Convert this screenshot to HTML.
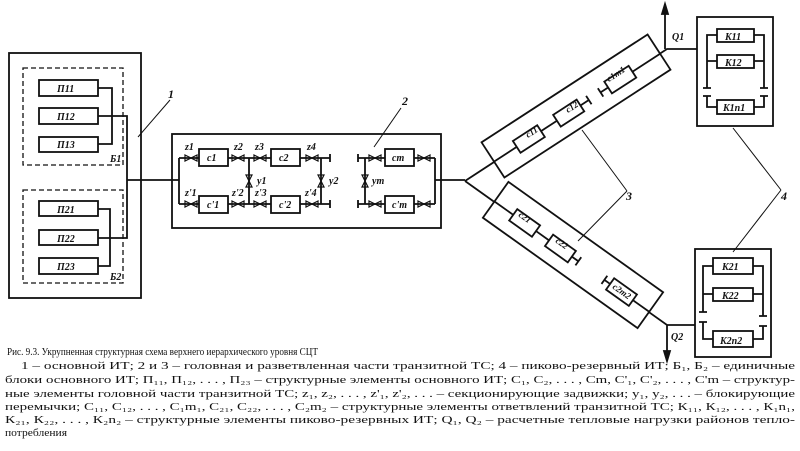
<!DOCTYPE html>
<html><head><meta charset="utf-8"><style>
html,body{margin:0;padding:0;background:#fff;}
svg{display:block}
text{font-family:"Liberation Serif",serif;fill:#111}
.l{font-family:"Liberation Sans",sans-serif;font-style:italic;font-weight:bold;font-size:10px}
</style></head><body>
<svg width="800" height="451" viewBox="0 0 800 451" xmlns="http://www.w3.org/2000/svg">
<defs>
<g id="v"><path d="M-6,-3 L0,0 L-6,3 Z M6,-3 L0,0 L6,3 Z" fill="none" stroke="#111" stroke-width="1.2"/></g>
<g id="vv"><path d="M-3,-6 L0,0 L3,-6 Z M-3,6 L0,0 L3,6 Z" fill="none" stroke="#111" stroke-width="1.2"/></g>
</defs>
<g stroke="#111" stroke-width="1.8" fill="none">
<rect x="9" y="53" width="132" height="245"/>
<rect x="23" y="68" width="100" height="97" stroke-dasharray="5,3" stroke-width="1.3"/>
<rect x="23" y="190" width="100" height="93" stroke-dasharray="5,3" stroke-width="1.3"/>
<rect x="39" y="80" width="59" height="16"/>
<rect x="39" y="108" width="59" height="16"/>
<rect x="39" y="137" width="59" height="15"/>
<rect x="39" y="201" width="59" height="15"/>
<rect x="39" y="230" width="59" height="15"/>
<rect x="39" y="258" width="59" height="16"/>
<path d="M98,88 H112 V144 H98 M98,116 H127 V238 H98 M98,209 H110 V266 H98 M127,180 H172"/>
<rect x="172" y="134" width="269" height="94"/>
<path d="M172,180 H179 M179,158 V204 M179,158 H199 M228,158 H271 M300,158 H330 M179,204 H199 M228,204 H271 M300,204 H330 M249,158 V204 M321,158 V204"/>
<path d="M330,154 V162 M330,200 V208 M358,154 V162 M358,200 V208 M358,158 H385 M414,158 H435 M358,204 H385 M414,204 H435 M365,158 V204 M435,158 V204 M435,180 H465"/>
<rect x="199" y="149" width="29" height="17"/>
<rect x="199" y="196" width="29" height="17"/>
<rect x="271" y="149" width="29" height="17"/>
<rect x="271" y="196" width="29" height="17"/>
<rect x="385" y="149" width="29" height="17"/>
<rect x="385" y="196" width="29" height="17"/>
<path d="M465,181 L667,49 H697 M665,49 V10 M465,181 L667,325 H695 M667,325 V355"/>
<path d="M665,4 L662,14 L668,14 Z M667,361 L664,351 L670,351 Z" fill="#111"/>
<g transform="translate(576,106) rotate(-33)">
<rect x="-99" y="-21" width="198" height="42" fill="#fff"/>
<path d="M-99,2 H-72 M-43,2 H-24 M4,2 H14 M14,-3 V7 M28,2 H37 M28,-3 V7 M66,2 H99"/>
<rect x="-72" y="-5" width="29" height="14" fill="#fff"/>
<rect x="-24" y="-5" width="28" height="14" fill="#fff"/>
<rect x="37" y="-5" width="29" height="14" fill="#fff"/>
</g>
<g transform="translate(573,255) rotate(35.5)">
<rect x="-95" y="-22" width="190" height="44" fill="#fff"/>
<path d="M-95,2 H-72 M-44,2 H-28 M0,2 H8 M8,-3 V7 M40,2 H47 M40,-3 V7 M75,2 H95"/>
<rect x="-72" y="-5" width="28" height="14" fill="#fff"/>
<rect x="-28" y="-5" width="28" height="14" fill="#fff"/>
<rect x="47" y="-5" width="28" height="14" fill="#fff"/>
</g>
<rect x="697" y="17" width="76" height="109"/>
<rect x="717" y="29" width="37" height="13"/>
<rect x="717" y="55" width="37" height="13"/>
<rect x="717" y="100" width="37" height="14"/>
<path d="M717,35 H707 V88 M703,88 H711 M754,35 H764 V88 M760,88 H768 M717,61 H707 M754,61 H764 M703,96 H711 M707,96 V107 H717 M760,96 H768 M764,96 V107 H754"/>
<rect x="695" y="249" width="76" height="108"/>
<rect x="713" y="258" width="40" height="16"/>
<rect x="713" y="288" width="40" height="13"/>
<rect x="713" y="331" width="40" height="16"/>
<path d="M713,266 H703 V312 M699,312 H707 M753,266 H763 V316 M759,316 H767 M713,294 H703 M753,294 H763 M699,322 H707 M703,322 V339 H713 M759,326 H767 M763,326 V339 H753"/>
<path stroke-width="1" d="M170,100 L138,137 M401,108 L374,147 M627,191 L582,130 M627,191 L578,241 M781,190 L733,128 M781,190 L733,252"/>
</g>
<g>
<use href="#v" x="191" y="158"/><use href="#v" x="191" y="204"/>
<use href="#v" x="238" y="158"/><use href="#v" x="260" y="158"/>
<use href="#v" x="238" y="204"/><use href="#v" x="260" y="204"/>
<use href="#v" x="312" y="158"/><use href="#v" x="312" y="204"/>
<use href="#v" x="375" y="158"/><use href="#v" x="375" y="204"/>
<use href="#v" x="424" y="158"/><use href="#v" x="424" y="204"/>
<use href="#vv" x="249" y="181"/><use href="#vv" x="321" y="181"/><use href="#vv" x="365" y="181"/>
</g>
<g class="l">
<text x="57" y="92">П11</text><text x="57" y="120">П12</text><text x="57" y="148">П13</text>
<text x="57" y="213">П21</text><text x="57" y="242">П22</text><text x="57" y="270">П23</text>
<text x="110" y="162">Б1</text><text x="110" y="280">Б2</text>
<text x="185" y="150">z1</text><text x="234" y="150">z2</text><text x="255" y="150">z3</text><text x="307" y="150">z4</text>
<text x="185" y="196">z'1</text><text x="232" y="196">z'2</text><text x="255" y="196">z'3</text><text x="305" y="196">z'4</text>
<text x="257" y="184">y1</text><text x="329" y="184">y2</text><text x="372" y="184">ym</text>
<text x="207" y="161">c1</text><text x="207" y="208">c'1</text><text x="279" y="161">c2</text><text x="279" y="208">c'2</text>
<text x="392" y="161">cm</text><text x="392" y="208">c'm</text>
<text x="725" y="40">K11</text><text x="725" y="66">K12</text><text x="723" y="111">K1n1</text>
<text x="722" y="270">K21</text><text x="722" y="299">K22</text><text x="720" y="344">K2n2</text>
<text x="672" y="40">Q1</text><text x="671" y="340">Q2</text>
<text x="168" y="98" font-size="12">1</text><text x="402" y="105" font-size="12">2</text>
<text x="626" y="200" font-size="12">3</text><text x="781" y="200" font-size="12">4</text>
<text font-size="9" transform="translate(528,138) rotate(-33)">c11</text>
<text font-size="9" transform="translate(568,113) rotate(-33)">c12</text>
<text font-size="9" transform="translate(609,82) rotate(-33)">c1m1</text>
<text font-size="9" transform="translate(518,216) rotate(35.5)">c21</text>
<text font-size="9" transform="translate(555,242) rotate(35.5)">c22</text>
<text font-size="9" transform="translate(612,288) rotate(35.5)">c2m2</text>
</g>
<g font-size="11">
<text x="7" y="355" textLength="311" lengthAdjust="spacingAndGlyphs">Рис. 9.3. Укрупненная структурная схема верхнего иерархического уровня СЦТ</text>
<text x="21" y="369" textLength="774" lengthAdjust="spacingAndGlyphs">1 – основной ИТ; 2 и 3 – головная и разветвленная части транзитной ТС; 4 – пиково-резервный ИТ; Б₁, Б₂ – единичные</text>
<text x="5" y="383" textLength="790" lengthAdjust="spacingAndGlyphs">блоки основного ИТ; П₁₁, П₁₂, . . . , П₂₃ – структурные элементы основного ИТ; С₁, С₂, . . . , Сm, С'₁, С'₂, . . . , С'm – структур-</text>
<text x="5" y="397" textLength="790" lengthAdjust="spacingAndGlyphs">ные элементы головной части транзитной ТС; z₁, z₂, . . . , z'₁, z'₂, . . . – секционирующие задвижки; y₁, y₂, . . . – блокирующие</text>
<text x="5" y="410" textLength="790" lengthAdjust="spacingAndGlyphs">перемычки; С₁₁, С₁₂, . . . , С₁m₁, С₂₁, С₂₂, . . . , С₂m₂ – структурные элементы ответвлений транзитной ТС; К₁₁, К₁₂, . . . , К₁n₁,</text>
<text x="5" y="423" textLength="790" lengthAdjust="spacingAndGlyphs">К₂₁, К₂₂, . . . , К₂n₂ – структурные элементы пиково-резервных ИТ; Q₁, Q₂ – расчетные тепловые нагрузки районов тепло-</text>
<text x="5" y="436" textLength="62" lengthAdjust="spacingAndGlyphs">потребления</text>
</g>
</svg>
</body></html>
